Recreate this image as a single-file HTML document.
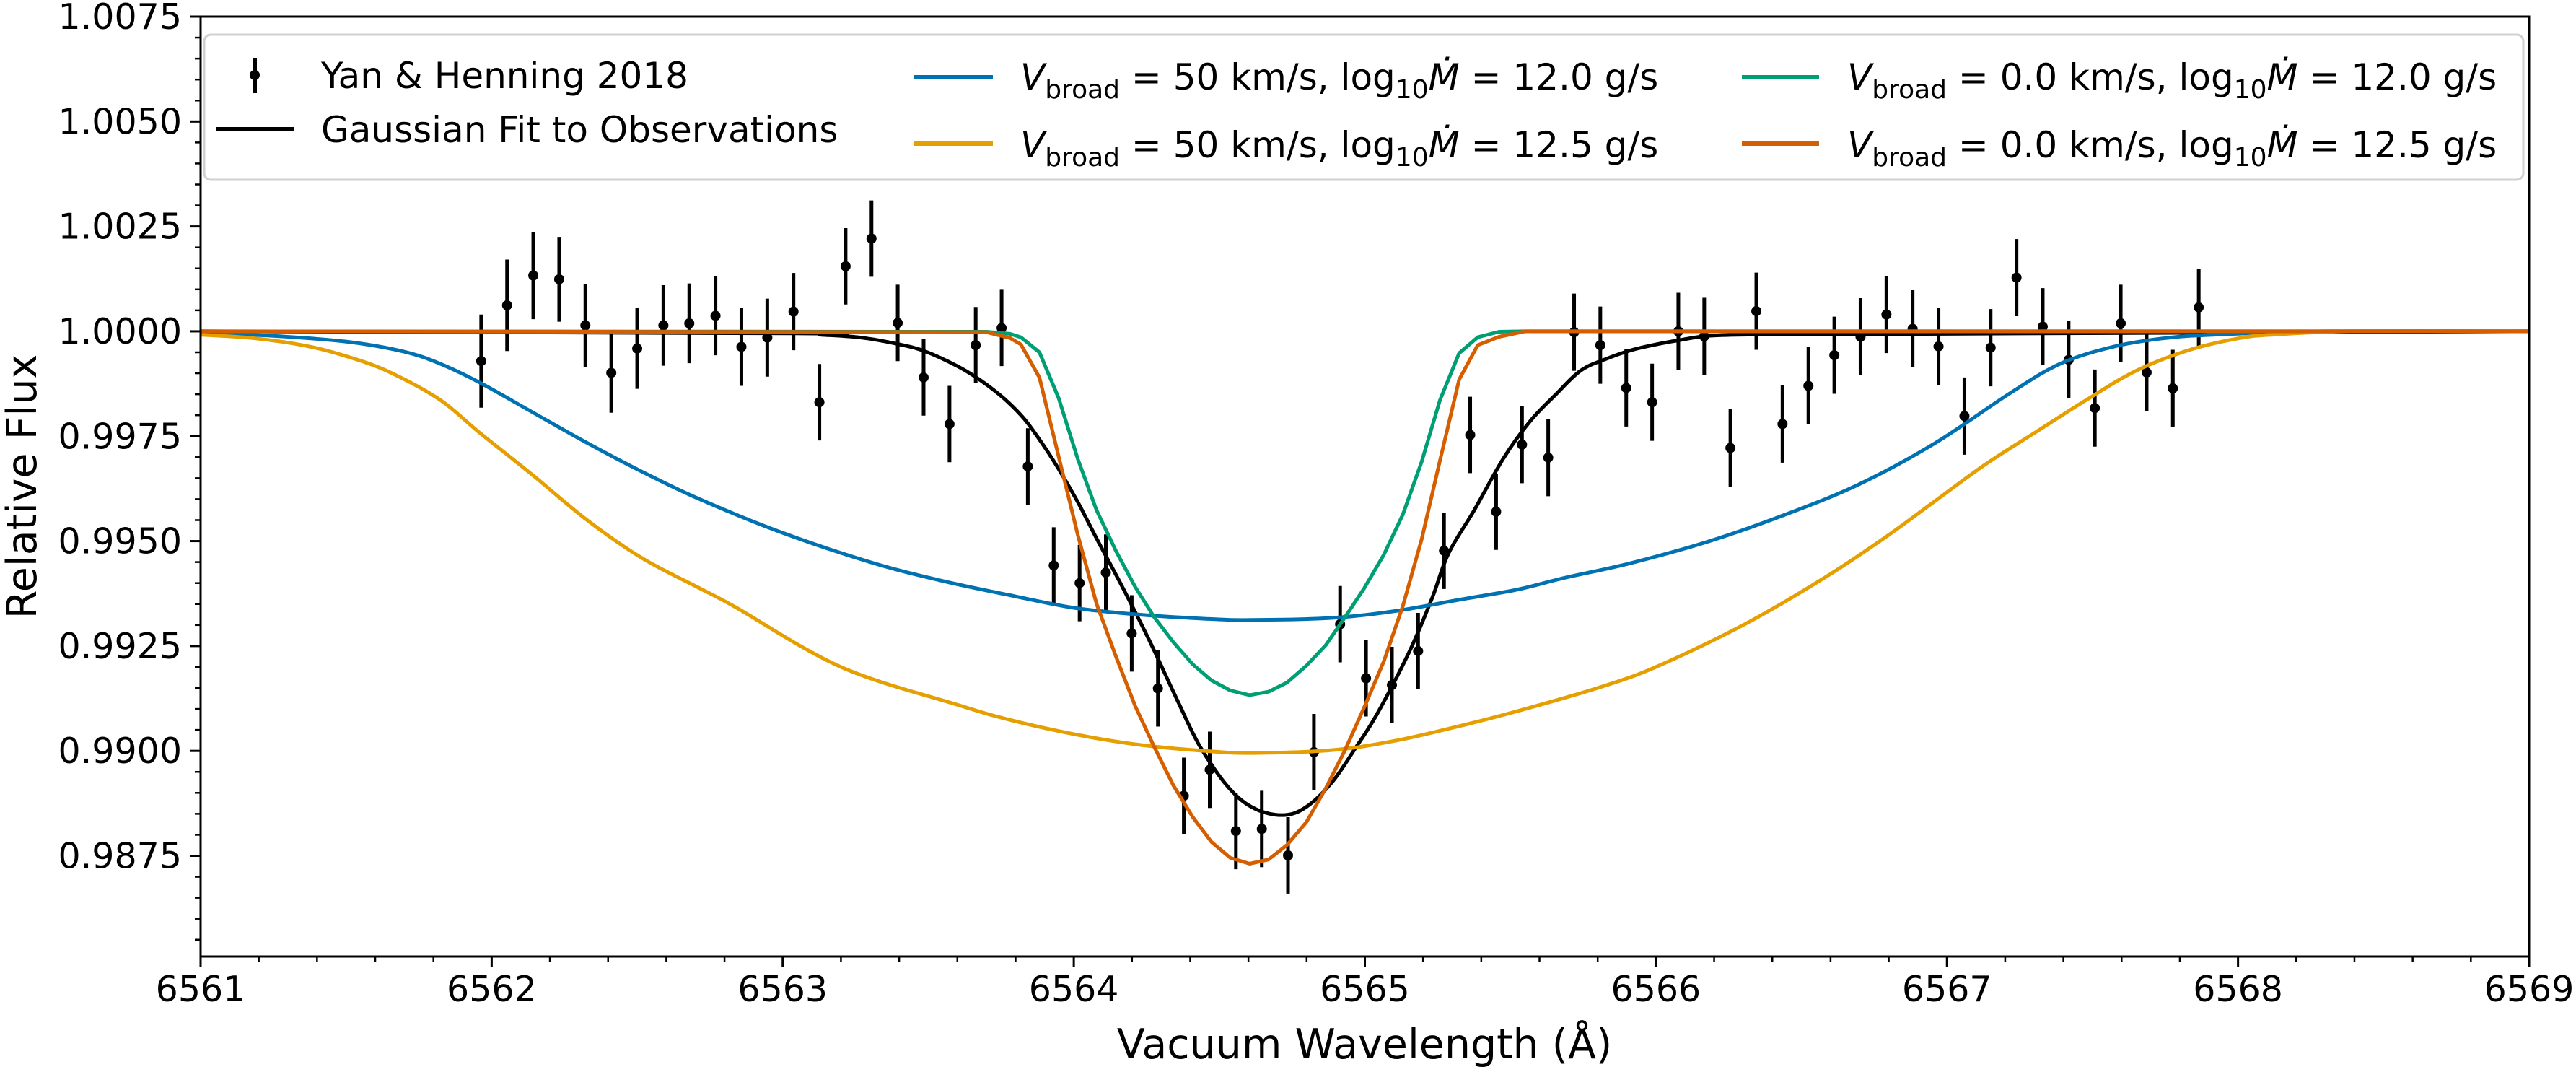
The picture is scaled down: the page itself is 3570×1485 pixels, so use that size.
<!DOCTYPE html>
<html><head><meta charset="utf-8"><style>
html,body{margin:0;padding:0;background:#fff}
svg{display:block;font-family:"DejaVu Sans","Liberation Sans",sans-serif}
</style></head><body>
<svg id="chart" width="3570" height="1485" viewBox="0 0 3570 1485" xmlns="http://www.w3.org/2000/svg">
<defs><clipPath id="plotclip"><rect x="278" y="23" width="3227" height="1302"/></clipPath></defs>
<rect x="0" y="0" width="3570" height="1485" fill="#fff"/>
<g id="series" clip-path="url(#plotclip)"></g>
<g id="axes"></g>
<text x="50" y="674" transform="rotate(-90 50 674)" text-anchor="middle" font-size="57">Relative Flux</text>
<text x="1891" y="1466" text-anchor="middle" font-size="57">Vacuum Wavelength (Å)</text>
<g>
<rect x="283" y="48" width="3214" height="201" rx="9" fill="#fff" fill-opacity="0.85" stroke="#d0d0d0" stroke-width="3"/>
<g>
<line x1="353" y1="80" x2="353" y2="129" stroke="#000" stroke-width="6"/>
<circle cx="353" cy="104" r="7" fill="#000"/>
<text x="445" y="122" font-size="50">Yan &amp; Henning 2018</text></g>
<g>
<line x1="300" y1="179" x2="407" y2="179" stroke="#000" stroke-width="6"/>
<text x="445" y="197" font-size="50">Gaussian Fit to Observations</text></g>
<g>
<line x1="1267" y1="107" x2="1376" y2="107" stroke="#0072B2" stroke-width="6"/>
<text x="1414" y="124" font-size="50"><tspan font-style="italic">V</tspan><tspan dy="12" font-size="36">broad</tspan><tspan dy="-12"> = 50 km/s, log</tspan><tspan dy="12" font-size="36">10</tspan><tspan dy="-12" font-style="italic">Ṁ</tspan><tspan> = 12.0 g/s</tspan></text></g>
<g>
<line x1="1267" y1="199" x2="1376" y2="199" stroke="#E69F00" stroke-width="6"/>
<text x="1414" y="218" font-size="50"><tspan font-style="italic">V</tspan><tspan dy="12" font-size="36">broad</tspan><tspan dy="-12"> = 50 km/s, log</tspan><tspan dy="12" font-size="36">10</tspan><tspan dy="-12" font-style="italic">Ṁ</tspan><tspan> = 12.5 g/s</tspan></text></g>
<g>
<line x1="2414" y1="107" x2="2521" y2="107" stroke="#009E73" stroke-width="6"/>
<text x="2560" y="124" font-size="50"><tspan font-style="italic">V</tspan><tspan dy="12" font-size="36">broad</tspan><tspan dy="-12"> = 0.0 km/s, log</tspan><tspan dy="12" font-size="36">10</tspan><tspan dy="-12" font-style="italic">Ṁ</tspan><tspan> = 12.0 g/s</tspan></text></g>
<g>
<line x1="2414" y1="199" x2="2521" y2="199" stroke="#D55E00" stroke-width="6"/>
<text x="2560" y="218" font-size="50"><tspan font-style="italic">V</tspan><tspan dy="12" font-size="36">broad</tspan><tspan dy="-12"> = 0.0 km/s, log</tspan><tspan dy="12" font-size="36">10</tspan><tspan dy="-12" font-style="italic">Ṁ</tspan><tspan> = 12.5 g/s</tspan></text></g>
</g>
</svg>
<script>
const obsWl = [6561.964,6562.053,6562.143,6562.232,6562.322,6562.411,6562.500,6562.590,6562.679,6562.769,6562.858,6562.947,6563.037,6563.126,6563.216,6563.305,6563.395,6563.484,6563.573,6563.663,6563.752,6563.842,6563.931,6564.020,6564.110,6564.199,6564.289,6564.378,6564.467,6564.557,6564.646,6564.736,6564.825,6564.915,6565.004,6565.093,6565.183,6565.272,6565.362,6565.451,6565.540,6565.630,6565.719,6565.809,6565.898,6565.987,6566.077,6566.166,6566.256,6566.345,6566.435,6566.524,6566.613,6566.703,6566.792,6566.882,6566.971,6567.060,6567.150,6567.239,6567.329,6567.418,6567.508,6567.597,6567.686,6567.776,6567.865];
const obsFlux = [0.99929,1.00062,1.00133,1.00124,1.00014,0.99901,0.99959,1.00014,1.00019,1.00037,0.99963,0.99985,1.00047,0.99831,1.00155,1.00221,1.00020,0.99890,0.99779,0.99967,1.00008,0.99678,0.99442,0.99400,0.99425,0.99280,0.99149,0.98893,0.98955,0.98809,0.98814,0.98751,0.98997,0.99302,0.99173,0.99157,0.99238,0.99477,0.99753,0.99570,0.99730,0.99699,0.99998,0.99967,0.99865,0.99831,1.00000,0.99988,0.99722,1.00048,0.99779,0.99870,0.99943,0.99987,1.00040,1.00006,0.99964,0.99798,0.99961,1.00128,1.00011,0.99932,0.99817,1.00019,0.99902,0.99864,1.00057];
const obsErr = [0.00111,0.00109,0.00104,0.00101,0.00099,0.00095,0.00096,0.00096,0.00095,0.00094,0.00093,0.00093,0.00092,0.00091,0.00091,0.00091,0.00091,0.00091,0.00091,0.00091,0.00091,0.00091,0.00091,0.00091,0.00091,0.00091,0.00091,0.00091,0.00091,0.00091,0.00091,0.00091,0.00091,0.00091,0.00091,0.00091,0.00091,0.00091,0.00091,0.00091,0.00092,0.00092,0.00092,0.00092,0.00092,0.00092,0.00092,0.00092,0.00092,0.00092,0.00092,0.00092,0.00092,0.00092,0.00092,0.00092,0.00092,0.00092,0.00092,0.00092,0.00092,0.00092,0.00092,0.00092,0.00092,0.00092,0.00092];
const fitWl = [6561.0,6563.05,6563.13,6563.27,6563.40,6563.49,6563.60,6563.68,6563.76,6563.83,6563.892,6563.947,6564.013,6564.080,6564.163,6564.257,6564.357,6564.434,6564.534,6564.623,6564.722,6564.800,6564.888,6564.966,6565.043,6565.154,6565.232,6565.287,6565.376,6565.476,6565.567,6565.654,6565.741,6565.828,6565.915,6566.002,6566.089,6566.176,6566.298,6566.611,6569.0];
const fitFlux = [1.0,0.99995,0.99992,0.99985,0.99969,0.99952,0.99917,0.99883,0.99840,0.99791,0.99732,0.99673,0.99594,0.99504,0.99396,0.99267,0.99119,0.99010,0.98911,0.98862,0.98847,0.98867,0.98926,0.99005,0.99089,0.99238,0.99366,0.99470,0.99574,0.99697,0.99785,0.99848,0.99906,0.99934,0.99955,0.99969,0.99980,0.99989,0.99992,0.99993,1.0];
const blueWl = [6561.0,6561.253,6561.506,6561.696,6561.822,6561.961,6562.138,6562.328,6562.518,6562.708,6562.983,6563.3,6563.55,6563.78,6564.0,6564.22,6564.45,6564.61,6564.89,6565.11,6565.33,6565.52,6565.69,6565.91,6566.18,6566.44,6566.70,6566.96,6567.22,6567.39,6567.57,6567.74,6567.92,6568.3,6569.0];
const blueFlux = [0.99996,0.99989,0.99975,0.99952,0.99923,0.99877,0.99808,0.99734,0.99665,0.99602,0.99524,0.99450,0.99405,0.99371,0.99341,0.99325,0.99315,0.99312,0.99317,0.99334,0.99361,0.99384,0.99413,0.99447,0.99499,0.99562,0.99636,0.99734,0.99854,0.99923,0.99963,0.99983,0.99992,1.0,1.0];
const yellowWl = [6561.0,6561.190,6561.379,6561.531,6561.658,6561.822,6561.961,6562.138,6562.328,6562.518,6562.708,6562.834,6563.2,6563.6,6563.78,6564.0,6564.22,6564.45,6564.61,6564.89,6565.11,6565.33,6565.52,6565.8,6566.0,6566.3,6566.58,6566.79,6566.96,6567.13,6567.31,6567.48,6567.65,6567.83,6568.0,6568.12,6568.4,6569.0];
const yellowFlux = [0.99992,0.99983,0.99963,0.99934,0.99900,0.99837,0.99757,0.99659,0.99550,0.99459,0.99390,0.99344,0.99200,0.99110,0.99074,0.99040,0.99015,0.99000,0.98995,0.99002,0.99025,0.99060,0.99094,0.99150,0.99200,0.99300,0.99413,0.99510,0.99596,0.99682,0.99762,0.99837,0.99906,0.99955,0.99983,0.99992,1.0,1.0];
const narrowWl = [6561.0,6563.70,6563.781,6563.818,6563.882,6563.948,6564.014,6564.078,6564.146,6564.211,6564.276,6564.342,6564.409,6564.473,6564.538,6564.604,6564.669,6564.733,6564.799,6564.866,6564.932,6564.998,6565.065,6565.131,6565.195,6565.258,6565.324,6565.388,6565.461,6565.55,6569.0];
const greenFlux = [1.0,0.99999,0.99994,0.99986,0.99950,0.99841,0.99695,0.99574,0.99475,0.99391,0.99319,0.99259,0.99206,0.99168,0.99144,0.99133,0.99141,0.99163,0.99203,0.99252,0.99319,0.99388,0.99467,0.99564,0.99689,0.99836,0.99948,0.99986,0.99999,1.0,1.0];
const orangeFlux = [1.0,0.99998,0.99984,0.99969,0.99890,0.99702,0.99514,0.99351,0.99223,0.99107,0.99010,0.98918,0.98842,0.98783,0.98745,0.98731,0.98741,0.98776,0.98830,0.98911,0.99002,0.99104,0.99213,0.99346,0.99504,0.99692,0.99885,0.99967,0.99987,1.0,1.0];
const xTickLabels = ["6561","6562","6563","6564","6565","6566","6567","6568","6569"];
const yTickLabels = ["1.0075","1.0050","1.0025","1.0000","0.9975","0.9950","0.9925","0.9900","0.9875"];

const NS = "http://www.w3.org/2000/svg";
const L = 278, R = 3505, T = 23, B = 1325;
const xMin = 6561, xMax = 6569, yMin = 0.98510, yMax = 1.0075;
function X(l){ return L + (l - xMin) / (xMax - xMin) * (R - L); }
function Y(v){ return T + (yMax - v) / (yMax - yMin) * (B - T); }
function mk(tag, attrs, parent){ const e = document.createElementNS(NS, tag); for (const k in attrs) e.setAttribute(k, attrs[k]); parent.appendChild(e); return e; }

const series = document.getElementById('series');
const axes = document.getElementById('axes');

const obsG = mk('g', {}, series);


for (let i = 0; i < obsWl.length; i++) {
  const x = X(obsWl[i]);
  const bar = mk('line', {x1: x, x2: x, y1: Y(obsFlux[i] + obsErr[i]), y2: Y(obsFlux[i] - obsErr[i]), stroke: '#000', 'stroke-width': 5}, obsG);
  
  
  const pt = mk('circle', {cx: x, cy: Y(obsFlux[i]), r: 7, fill: '#000'}, obsG);
  
  
}

function polyPath(wl, fx){ let d = ''; for (let i = 0; i < wl.length; i++) d += (i ? 'L' : 'M') + X(wl[i]).toFixed(1) + ',' + Y(fx[i]).toFixed(1); return d; }
function smoothPath(wl, fx){
  const p = wl.map((w, i) => [X(w), Y(fx[i])]);
  let d = 'M' + p[0][0].toFixed(1) + ',' + p[0][1].toFixed(1);
  for (let i = 0; i < p.length - 1; i++) {
    const p0 = p[Math.max(0, i - 1)], p1 = p[i], p2 = p[i + 1], p3 = p[Math.min(p.length - 1, i + 2)];
    const c1 = [p1[0] + (p2[0] - p0[0]) / 6, p1[1] + (p2[1] - p0[1]) / 6];
    const c2 = [p2[0] - (p3[0] - p1[0]) / 6, p2[1] - (p3[1] - p1[1]) / 6];
    d += 'C' + c1[0].toFixed(1) + ',' + c1[1].toFixed(1) + ' ' + c2[0].toFixed(1) + ',' + c2[1].toFixed(1) + ' ' + p2[0].toFixed(1) + ',' + p2[1].toFixed(1);
  }
  return d;
}

const fitLine = mk('path', {d: smoothPath(fitWl, fitFlux), fill: 'none', stroke: '#000', 'stroke-width': 5, 'stroke-linejoin': 'round'}, series);


const blueLine = mk('path', {d: smoothPath(blueWl, blueFlux), fill: 'none', stroke: '#0072B2', 'stroke-width': 5}, series);


const yellowLine = mk('path', {d: smoothPath(yellowWl, yellowFlux), fill: 'none', stroke: '#E69F00', 'stroke-width': 5}, series);


const greenLine = mk('path', {d: polyPath(narrowWl, greenFlux), fill: 'none', stroke: '#009E73', 'stroke-width': 5, 'stroke-linejoin': 'round'}, series);


const orangeLine = mk('path', {d: polyPath(narrowWl, orangeFlux), fill: 'none', stroke: '#D55E00', 'stroke-width': 5, 'stroke-linejoin': 'round'}, series);



const frame = mk('rect', {x: L, y: T, width: R - L, height: B - T, fill: 'none', stroke: '#000', 'stroke-width': 3}, axes);



for (let i = 0; i < xTickLabels.length; i++) {
  const v = parseFloat(xTickLabels[i]);
  const x = X(v);
  const t = mk('line', {x1: x, x2: x, y1: B, y2: B + 14, stroke: '#000', 'stroke-width': 3}, axes);
  
  
  const lab = mk('text', {x: x, y: 1387, 'text-anchor': 'middle', 'font-size': 49}, axes);
  lab.textContent = xTickLabels[i];
  
  
  if (i < xTickLabels.length - 1) {
    for (let k = 1; k < 5; k++) {
      const xm = X(v + k * 0.2);
      const m = mk('line', {x1: xm, x2: xm, y1: B, y2: B + 8, stroke: '#000', 'stroke-width': 2.5}, axes);
      
      
    }
  }
}
for (let i = 0; i < yTickLabels.length; i++) {
  const v = parseFloat(yTickLabels[i]);
  const y = Y(v);
  const t = mk('line', {x1: L - 14, x2: L, y1: y, y2: y, stroke: '#000', 'stroke-width': 3}, axes);
  
  
  const lab = mk('text', {x: 252, y: y + 17, 'text-anchor': 'end', 'font-size': 49}, axes);
  lab.textContent = yTickLabels[i];
  
  
}
for (let k = 0; k <= 44; k++) {
  const v = 0.9855 + k * 0.0005;
  if (Math.round(v * 10000) % 25 === 0) continue;
  const y = Y(v);
  if (y < T - 1 || y > B) continue;
  const m = mk('line', {x1: L - 8, x2: L, y1: y, y2: y, stroke: '#000', 'stroke-width': 2.5}, axes);
  
  
}
</script>
</body></html>
